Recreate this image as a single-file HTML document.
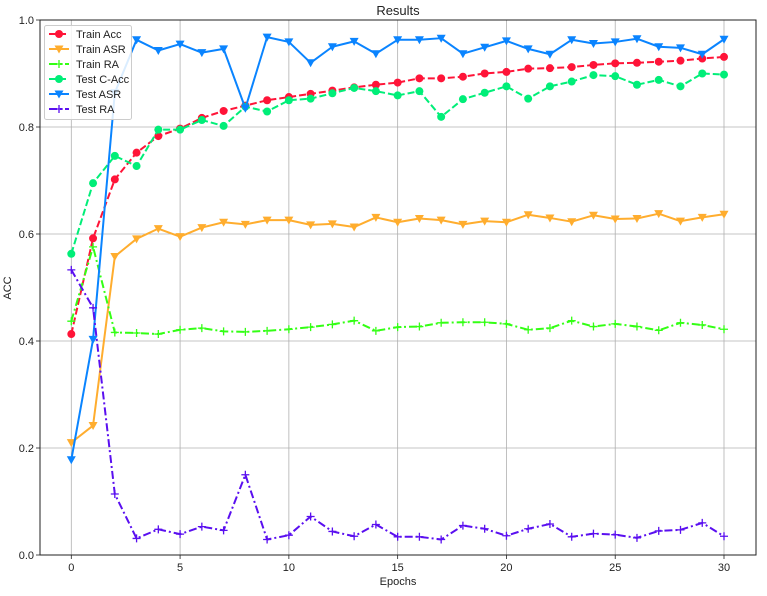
<!DOCTYPE html>
<html><head><meta charset="utf-8"><style>
html,body{margin:0;padding:0;background:#fff;}
svg text{font-family:"Liberation Sans","DejaVu Sans",sans-serif;fill:#222;}
</style></head><body>
<svg id="chart" width="767" height="591" xmlns="http://www.w3.org/2000/svg">
<rect width="767" height="591" fill="#fff"/>
<g id="grid"></g>
<g id="series"></g>
<g id="axes"></g>
<text x="398" y="15" text-anchor="middle" font-size="13">Results</text>
<text x="398" y="585" text-anchor="middle" font-size="11">Epochs</text>
<text x="11" y="288" text-anchor="middle" font-size="11" transform="rotate(-90 11 288)">ACC</text>
<g id="legend"></g>
</svg>
<script>
const epochs = Array.from({length:31},(_,i)=>i);
const trainAcc = [0.413,0.592,0.702,0.752,0.783,0.797,0.817,0.830,0.840,0.850,0.856,0.862,0.868,0.874,0.879,0.883,0.891,0.891,0.894,0.900,0.903,0.909,0.910,0.912,0.916,0.919,0.920,0.922,0.924,0.928,0.931];
const trainASR = [0.210,0.242,0.558,0.591,0.610,0.595,0.612,0.622,0.618,0.626,0.626,0.617,0.619,0.613,0.631,0.622,0.629,0.626,0.618,0.624,0.622,0.636,0.630,0.623,0.635,0.628,0.629,0.638,0.624,0.631,0.637];
const trainRA = [0.437,0.576,0.416,0.415,0.413,0.421,0.424,0.418,0.417,0.419,0.422,0.426,0.431,0.438,0.419,0.426,0.427,0.434,0.435,0.435,0.432,0.421,0.424,0.438,0.427,0.432,0.427,0.420,0.434,0.430,0.422];
const testCAcc = [0.563,0.695,0.746,0.727,0.795,0.795,0.813,0.802,0.838,0.829,0.850,0.853,0.863,0.873,0.867,0.859,0.867,0.819,0.852,0.864,0.876,0.853,0.876,0.885,0.897,0.895,0.879,0.888,0.876,0.900,0.898];
const testASR = [0.178,0.403,0.864,0.963,0.943,0.955,0.939,0.946,0.835,0.968,0.959,0.920,0.950,0.960,0.937,0.963,0.963,0.966,0.937,0.949,0.961,0.946,0.936,0.963,0.956,0.959,0.965,0.950,0.948,0.936,0.964];
const testRA = [0.533,0.462,0.114,0.031,0.048,0.039,0.053,0.046,0.150,0.029,0.037,0.072,0.044,0.035,0.057,0.034,0.034,0.029,0.055,0.049,0.036,0.049,0.058,0.034,0.040,0.038,0.032,0.045,0.047,0.060,0.035];
const xTicks = [0,5,10,15,20,25,30];
const yTicks = [0.0,0.2,0.4,0.6,0.8,1.0];

const L=40,R=756,T=20,B=555;
const X0=71.3,X30=724;
const x = v => X0 + (X30-X0)*v/30;
const y = v => B - (B-T)*v;
const NS="http://www.w3.org/2000/svg";
function mk(tag,attrs,parent){const e=document.createElementNS(NS,tag);for(const k in attrs)e.setAttribute(k,attrs[k]);parent.appendChild(e);return e;}
const grid=document.getElementById('grid'),axes=document.getElementById('axes'),ser=document.getElementById('series'),leg=document.getElementById('legend');

xTicks.forEach(t=>{
  const g=mk('line',{x1:x(t),x2:x(t),y1:T,y2:B,stroke:'#b0b0b0','stroke-width':0.8},grid);
  
  
  mk('line',{x1:x(t),x2:x(t),y1:B,y2:B+4,stroke:'#222','stroke-width':0.8},axes);
  const tx=mk('text',{x:x(t),y:B+16,'text-anchor':'middle','font-size':11},axes);
  tx.textContent=t;
  
  
});
yTicks.forEach(t=>{
  const g=mk('line',{x1:L,x2:R,y1:y(t),y2:y(t),stroke:'#b0b0b0','stroke-width':0.8},grid);
  
  
  mk('line',{x1:L-4,x2:L,y1:y(t),y2:y(t),stroke:'#222','stroke-width':0.8},axes);
  const tx=mk('text',{x:L-6,y:y(t)+4,'text-anchor':'end','font-size':11},axes);
  tx.textContent=t.toFixed(1);
  
  
});
const frame=mk('rect',{x:L,y:T,width:R-L,height:B-T,fill:'none',stroke:'#222','stroke-width':1},axes);



function marker(type,cx,cy,color,parent){
  if(type==='o') return mk('circle',{cx,cy,r:4,fill:color},parent);
  if(type==='v') return mk('path',{d:`M${cx-4.5},${cy-3.5}L${cx+4.5},${cy-3.5}L${cx},${cy+4.5}Z`,fill:color},parent);
  return mk('path',{d:`M${cx-4},${cy}H${cx+4}M${cx},${cy-4}V${cy+4}`,stroke:color,'stroke-width':1.3,fill:'none'},parent);
}
const series=[
 {name:'Train Acc',data:trainAcc,color:'#ff1438',dash:'7,3',m:'o',id:'train-acc'},
 {name:'Train ASR',data:trainASR,color:'#ffad2e',dash:'',m:'v',id:'train-asr'},
 {name:'Train RA',data:trainRA,color:'#33ff14',dash:'8,3,2,3',m:'+',id:'train-ra'},
 {name:'Test C-Acc',data:testCAcc,color:'#00ee78',dash:'7,3',m:'o',id:'test-c-acc'},
 {name:'Test ASR',data:testASR,color:'#0a84ff',dash:'',m:'v',id:'test-asr'},
 {name:'Test RA',data:testRA,color:'#5a0ff0',dash:'8,3,2,3',m:'+',id:'test-ra'}
];
series.forEach(s=>{
  const g=mk('g',{},ser);
  
  
  const d=s.data.map((v,i)=>(i?'L':'M')+x(epochs[i])+','+y(v)).join('');
  const p=mk('path',{d,fill:'none',stroke:s.color,'stroke-width':2,'stroke-dasharray':s.dash,'stroke-linejoin':'round'},g);
  
  
  s.data.forEach((v,i)=>{
    const m=marker(s.m,x(epochs[i]),y(v),s.color,g);
    
    
  });
});
const box=mk('rect',{x:44.5,y:25.5,width:87,height:94,rx:2,fill:'#fff','fill-opacity':0.85,stroke:'#ccc','stroke-width':1},leg);


series.forEach((s,i)=>{
  const yy=34+i*15;
  const g=mk('g',{},leg);
  
  
  mk('line',{x1:49,x2:69,y1:yy,y2:yy,stroke:s.color,'stroke-width':2,'stroke-dasharray':s.dash},g);
  marker(s.m,59,yy,s.color,g);
  const t=mk('text',{x:76,y:yy+4,'font-size':11},g);
  t.textContent=s.name;
});
</script>
</body></html>
